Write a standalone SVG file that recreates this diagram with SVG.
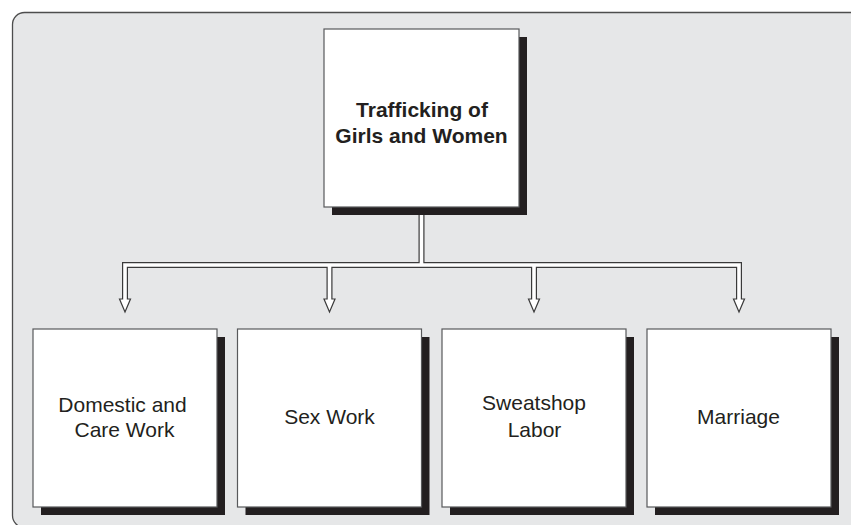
<svg xmlns="http://www.w3.org/2000/svg" xmlns:xlink="http://www.w3.org/1999/xlink" width="851" height="525" viewBox="0 0 851 525">
<style>
.panel{fill:#e6e7e8;stroke:#4d4d4d;stroke-width:1.3}
.shadow{fill:#231f20}
.box{fill:#ffffff;stroke:#58595b;stroke-width:1.2}
.lbl{font-family:"Liberation Sans",Arial,sans-serif;font-size:21px;fill:#231f20;text-anchor:middle}
.bold{font-weight:bold}
.pipe-o{fill:none;stroke:#3a3a3a;stroke-width:6;stroke-linejoin:miter;stroke-linecap:butt}
.pipe-i{fill:none;stroke:#ffffff;stroke-width:3.6;stroke-linejoin:miter;stroke-linecap:butt}
.head{fill:#ffffff;stroke:#3a3a3a;stroke-width:1.2;stroke-linejoin:miter}
</style>
<defs>
<polygon id="ah" points="-5.5,0 5.5,0 0,13"/>
</defs>
<rect class="panel" x="12.5" y="12.5" width="860" height="515" rx="12" ry="12"/>
<g id="connectors">
<path class="pipe-o" d="M421.5,207 V265 M125,299 V265 H739 V299 M329.5,265 V299 M534,265 V299"/>
<use href="#ah" xlink:href="#ah" class="head" x="125" y="299"/>
<use href="#ah" xlink:href="#ah" class="head" x="329.5" y="299"/>
<use href="#ah" xlink:href="#ah" class="head" x="534" y="299"/>
<use href="#ah" xlink:href="#ah" class="head" x="739" y="299"/>
<path class="pipe-i" d="M421.5,207 V265 M125,300 V265 H739 V300 M329.5,265 V300 M534,265 V300"/>
</g>
<g id="node-trafficking">
<rect class="shadow" x="332" y="37" width="195" height="178"/>
<rect class="box" x="324" y="29" width="195" height="178"/>
<text class="lbl bold" x="422" y="116.5">Trafficking of</text>
<text class="lbl bold" x="421.5" y="142.5">Girls and Women</text>
</g>
<g id="node-domestic">
<rect class="shadow" x="41" y="337" width="184" height="178"/>
<rect class="box" x="33" y="329" width="184" height="178"/>
<text class="lbl" x="122.5" y="411.5">Domestic and</text>
<text class="lbl" x="124.5" y="436.5">Care Work</text>
</g>
<g id="node-sexwork">
<rect class="shadow" x="245.5" y="337" width="184" height="178"/>
<rect class="box" x="237.5" y="329" width="184" height="178"/>
<text class="lbl" x="329.5" y="423.5">Sex Work</text>
</g>
<g id="node-sweatshop">
<rect class="shadow" x="450" y="337" width="184" height="178"/>
<rect class="box" x="442" y="329" width="184" height="178"/>
<text class="lbl" x="534" y="410">Sweatshop</text>
<text class="lbl" x="534.5" y="436.5">Labor</text>
</g>
<g id="node-marriage">
<rect class="shadow" x="655" y="337" width="184" height="178"/>
<rect class="box" x="647" y="329" width="184" height="178"/>
<text class="lbl" x="738.5" y="423.5">Marriage</text>
</g>
</svg>
